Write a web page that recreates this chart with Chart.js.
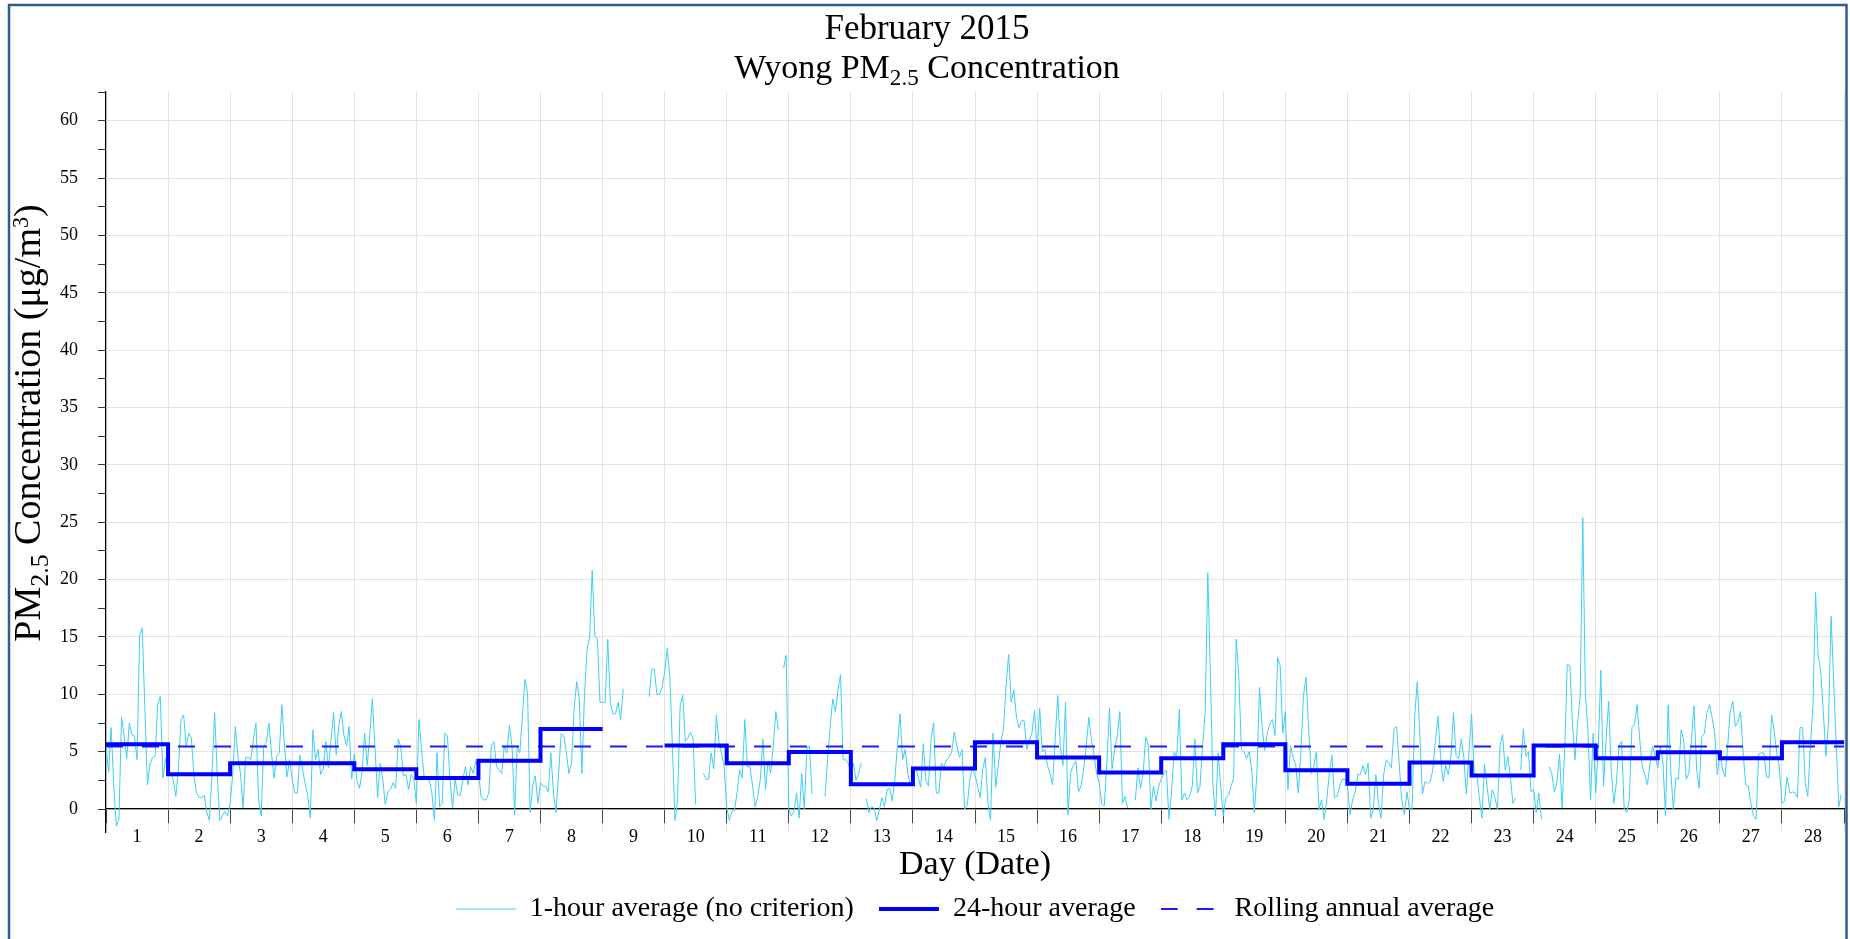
<!DOCTYPE html>
<html lang="en">
<head>
  <meta charset="UTF-8">
  <title>February 2015 - Wyong PM2.5 Concentration</title>
  <script src="https://cdn.jsdelivr.net/npm/chart.js"></script>
  <style>
    html, body {
      margin: 0;
      padding: 0;
      background: #ffffff;
      overflow: hidden;
    }

    #wrap {
      width: 1850px;
      height: 939px;
    }
  </style>
</head>
<body>
  <div id="wrap">
    <canvas id="chart" width="1850" height="939"></canvas>
  </div>

  <script>
    const FONT = "'Liberation Serif', 'DejaVu Serif', serif";

    // tick labels
    const dayLabels = ['1', '2', '3', '4', '5', '6', '7', '8', '9', '10', '11', '12', '13', '14',
      '15', '16', '17', '18', '19', '20', '21', '22', '23', '24', '25', '26', '27', '28'];
    const dayEdges = [0, 1, 2, 3, 4, 5, 6, 7, 8, 9, 10, 11, 12, 13, 14, 15, 16, 17, 18, 19, 20,
      21, 22, 23, 24, 25, 26, 27, 28];
    const yTickValues = [0, 2.5, 5, 7.5, 10, 12.5, 15, 17.5, 20, 22.5, 25, 27.5, 30, 32.5, 35,
      37.5, 40, 42.5, 45, 47.5, 50, 52.5, 55, 57.5, 60, 62.5];
    const yLabelValues = [0, 5, 10, 15, 20, 25, 30, 35, 40, 45, 50, 55, 60];

    // 1-hour averages, one row per day (hours 0..23), µg/m3
    const hourlyByDay = [
      [5.6, 3.2, 7.1, 2.0, -1.5, -0.9, 8.0, 6.4, 4.4, 7.5, 6.5, 6.4, 4.3, 15.1, 15.8, 9.0, 2.1, 3.9, 4.5, 4.6, 9.1, 9.8, 2.7, 4.4],
      [3.0, 3.1, 2.5, 1.1, 3.5, 7.8, 8.2, 5.5, 6.6, 6.2, 2.9, 1.4, 1.0, 1.0, 1.2, -0.3, -1.0, 3.1, 8.4, 3.1, -1.0, -0.6, -0.2, -0.6],
      [0.5, 3.0, 7.2, 4.6, 3.1, 0.1, 4.5, 4.5, 4.3, 6.1, 7.5, 0.8, -0.6, 5.5, 5.8, 7.5, 4.8, 2.7, 4.6, 4.9, 9.1, 5.5, 2.8, 4.3],
      [2.6, 1.4, 1.4, 4.7, 3.5, 2.2, 1.2, -0.8, 6.9, 4.3, 5.2, 3.0, 3.5, 5.9, 3.6, 6.0, 8.4, 4.7, 7.2, 8.5, 6.4, 5.5, 7.2, 2.6],
      [4.8, 2.5, 1.8, 3.2, 6.6, 3.8, 6.5, 9.6, 5.4, 1.0, 4.0, 2.6, 0.4, 1.5, 1.7, 2.3, 1.8, 6.1, 5.4, 2.9, 3.0, 1.7, 3.0, 2.6],
      [0.5, 7.8, 5.2, 2.8, 2.6, 2.5, 1.4, -1.0, 4.9, 0.2, 0.5, 6.6, 6.4, 2.6, 0.1, 2.6, 1.2, 1.2, 2.6, 3.7, 2.1, 3.7, 3.1, 4.2],
      [3.4, 1.1, 0.8, 0.8, 1.4, 5.5, 5.9, 3.7, 3.4, 3.1, 5.5, 4.9, 7.3, 5.5, -0.5, 5.5, 4.9, 8.1, 11.3, 10.1, -0.3, 2.1, 2.9, 0.5],
      [2.3, 2.0, 2.0, 1.5, 4.9, 1.4, -0.3, 3.1, 6.6, 6.4, 4.9, 3.1, 4.0, 8.7, 11.1, 9.6, 3.1, 9.9, 13.9, 15.0, 20.8, 15.1, 14.8, 9.3],
      [9.3, 9.3, 14.8, 9.3, 8.3, 8.3, 9.3, 7.8, 10.5, null, null, null, null, null, null, null, null, null, 9.8, 12.2, 12.2, 10.0, 10.0, 10.6],
      [11.9, 14.0, 11.6, 5.5, -1.0, 0.8, 9.0, 9.9, 5.9, 6.2, 6.7, 6.1, 0.4, null, null, 3.1, 2.6, 2.6, 4.9, 3.5, 8.2, 5.8, 4.9, 3.7],
      [0.2, -1.0, -0.2, -0.1, 1.4, 3.4, 2.7, 7.8, 3.7, 3.7, 2.0, 0.2, 1.1, 2.6, 6.1, 1.7, 4.2, 3.1, 5.5, 8.5, 6.9, null, 12.3, 13.4],
      [0.0, -0.6, -0.2, 1.4, -0.8, 3.1, 0.0, 5.3, 5.5, 1.3, null, null, null, null, 1.1, 4.3, 7.2, 9.6, 8.5, 10.3, 11.7, 4.3, 4.3, 4.0],
      [3.1, 4.0, 2.5, 3.1, 4.0, null, 0.9, -0.3, 0.2, 0.1, -1.0, -0.1, 1.0, 0.2, 1.7, 1.8, 0.7, 2.6, 5.5, 8.3, 4.3, 5.2, 3.1, 2.1],
      [3.0, 3.7, 2.8, 1.9, 5.7, 2.5, 2.0, 6.1, 7.5, 1.4, 1.4, 4.0, 3.7, 4.3, 4.5, 5.0, 6.7, 5.5, 4.5, 5.2, 0.0, 0.3, 2.6, 3.5],
      [3.0, 2.0, 1.0, 3.5, 4.5, 0.5, -1.0, 6.6, 1.9, 3.8, 5.8, 7.0, 10.7, 13.5, 9.3, 10.4, 8.1, 7.1, 7.7, 7.7, 5.2, 6.0, 6.6, 8.6],
      [5.0, 8.8, 5.0, 5.2, 3.8, 3.1, 2.1, 6.1, 9.9, 5.4, 3.8, 9.3, -0.5, 3.2, 3.8, 4.2, 1.5, 2.0, 3.4, 5.5, 8.0, 6.0, 4.8, 3.1],
      [2.3, 0.4, 0.3, 4.0, 8.8, 3.5, 5.2, 6.4, 8.5, 0.5, 1.1, 0.1, null, null, 0.8, 3.6, 1.8, 3.1, 6.3, 5.6, 0.0, 2.0, 0.7, 2.0],
      [2.6, 3.1, 3.4, -0.9, 1.5, 5.0, 4.5, 8.7, 0.8, 1.4, 0.8, 1.1, 2.0, 6.1, 1.4, 2.0, 5.5, 8.4, 20.6, 11.9, 2.1, -0.6, 4.9, 2.0],
      [-0.6, 1.0, 1.2, 2.0, 2.7, 14.8, 11.6, 5.2, 5.0, 4.4, 5.0, 3.4, -0.3, 3.1, 10.6, 7.2, 5.1, 6.6, 7.4, 7.8, 6.4, 13.2, 12.5, 6.6],
      [8.5, 1.7, 5.5, 4.5, 3.9, 1.4, 5.0, 9.9, 11.5, 7.0, 3.1, 3.7, 5.0, 0.0, 0.8, -0.9, 0.8, 3.1, 4.7, 1.0, 1.1, 2.0, 2.6, 2.6],
      [2.0, -0.5, 0.8, 1.5, 3.0, 3.0, 3.8, 3.0, 4.0, -0.8, 0.0, 3.0, 0.5, -0.8, 3.0, 4.3, 4.0, 3.6, 7.0, 7.2, 4.0, 0.8, -0.5, 1.5],
      [0.0, 0.0, 8.1, 11.1, 6.5, 1.3, 2.4, 2.2, 2.4, 3.4, 5.9, 8.1, 4.6, 2.4, 3.8, 3.0, 4.5, 8.4, 4.6, 4.4, 6.1, 4.5, 1.3, 5.0],
      [8.3, 3.0, 3.1, 1.0, -0.8, 3.9, 2.0, 0.0, 1.7, 1.0, 0.0, 5.5, 6.5, 3.4, 4.6, 2.8, 0.5, 1.0, null, 3.4, 7.0, 4.6, 5.0, 1.5],
      [1.7, -0.3, 1.4, -0.9, null, null, 3.7, 3.1, 1.5, 2.3, 4.8, 0.1, 5.2, 12.6, 12.5, 7.5, 4.3, 7.5, 10.0, 25.4, 10.0, 6.8, 0.8, 6.6],
      [1.4, 5.5, 12.1, 2.0, 6.0, 9.4, 3.4, 0.5, 2.3, 5.5, 5.9, 0.0, -0.3, 0.8, 7.1, 7.4, 9.1, 6.1, 3.7, 3.0, 2.1, 4.0, 5.5, 4.6],
      [3.6, 5.5, 4.0, -0.6, 9.1, 3.4, 0.0, 2.7, 2.6, 6.9, 6.0, 2.6, 3.1, 6.0, 9.0, 3.5, 1.8, 6.3, 6.6, 8.4, 9.1, 8.0, 6.6, 3.0],
      [4.9, 3.5, 2.8, 5.4, 8.5, 9.4, 7.2, 7.6, 8.5, 4.9, 2.1, 2.0, 0.5, -0.6, -0.9, 4.8, 4.9, 4.9, 2.8, 2.7, 8.2, 6.8, 4.9, 3.7],
      [0.5, 0.7, 2.8, 1.4, 1.5, 1.4, 1.0, 7.1, 7.1, 2.3, 1.1, 5.5, 9.0, 18.9, 13.5, 12.0, 8.5, 4.6, 7.5, 16.8, 11.2, 5.5, 0.2, 1.3]
    ];

    // 24-hour averages per day (day 9 incomplete, no value)
    const dailyAvg = [5.65, 3.04, 4.0, 4.0, 3.48, 2.7, 4.2, 6.98, null, 5.53, 4.0, 4.98, 2.17, 3.53,
      5.83, 4.49, 3.18, 4.43, 5.65, 3.39, 2.2, 4.05, 2.92, 5.53, 4.43, 4.96, 4.43, 5.83];

    const annualAvg = 5.45;

    // build point lists for the library
    const hourlyPoints = [];
    hourlyByDay.forEach((row, d) => {
      row.forEach((v, h) => hourlyPoints.push({ x: d + h / 24, y: v }));
    });

    const dailyPoints = [];
    dailyAvg.forEach((v, d) => {
      if (v === null) {
        dailyPoints.push({ x: d, y: null });
        return;
      }
      dailyPoints.push({ x: d, y: v });
      if (d === dailyAvg.length - 1 || dailyAvg[d + 1] === null) {
        dailyPoints.push({ x: d + 1, y: v });
      }
    });

    const annualPoints = [
      { x: dayEdges[0], y: annualAvg },
      { x: dayEdges[dayEdges.length - 1], y: annualAvg }
    ];

    // small line sample used as legend symbol
    function legendLine(color, width, dash) {
      const c = document.createElement('canvas');
      c.width = 60;
      c.height = 8;
      const g = c.getContext('2d');
      g.strokeStyle = color;
      g.lineWidth = width;
      g.setLineDash(dash);
      g.beginPath();
      g.moveTo(0, 4);
      g.lineTo(60, 4);
      g.stroke();
      return c;
    }

    // draws text pieces (normal / subscript / superscript) centred on x
    function drawRich(ctx, parts, x, y, size) {
      let total = 0;
      parts.forEach(p => {
        ctx.font = (p.scale ? size * p.scale : size) + 'px ' + FONT;
        p.w = ctx.measureText(p.t).width;
        total += p.w;
      });
      let cx = x - total / 2;
      ctx.textAlign = 'left';
      ctx.textBaseline = 'alphabetic';
      parts.forEach(p => {
        ctx.font = (p.scale ? size * p.scale : size) + 'px ' + FONT;
        ctx.fillText(p.t, cx, y + (p.dy || 0));
        cx += p.w;
      });
    }

    const textPlugin = {
      id: 'textPlugin',
      afterDraw(chart) {
        const ctx = chart.ctx;
        ctx.save();
        ctx.fillStyle = '#000';

        // title
        drawRich(ctx, [{ t: 'February 2015' }], 927, 39, 35);
        drawRich(ctx, [
          { t: 'Wyong PM' },
          { t: '2.5', scale: 0.68, dy: 7 },
          { t: ' Concentration' }
        ], 927, 78, 34);

        // x axis title
        drawRich(ctx, [{ t: 'Day (Date)' }], 975, 874, 34);

        // y axis title
        ctx.translate(40, 423);
        ctx.rotate(-Math.PI / 2);
        drawRich(ctx, [
          { t: 'PM' },
          { t: '2.5', scale: 0.68, dy: 8 },
          { t: ' Concentration (\u03bcg/m' },
          { t: '3', scale: 0.58, dy: -12 },
          { t: ')' }
        ], 0, 0, 38);
        ctx.restore();

        // outer frame
        ctx.save();
        ctx.strokeStyle = '#2f5d93';
        ctx.lineWidth = 2.5;
        ctx.strokeRect(9, 5, 1837.5, 1000);
        ctx.restore();
      }
    };

    const ctx = document.getElementById('chart').getContext('2d');

    const chart = new Chart(ctx, {
      type: 'line',
      data: {
        datasets: [
          {
            label: '1-hour average (no criterion)',
            data: hourlyPoints,
            borderColor: '#3fcdf5',
            borderWidth: 1,
            pointRadius: 0,
            tension: 0,
            spanGaps: false,
            order: 3
          },
          {
            label: '24-hour average',
            data: dailyPoints,
            borderColor: '#0000ff',
            borderWidth: 4,
            pointRadius: 0,
            stepped: 'before',
            spanGaps: false,
            order: 1
          },
          {
            label: 'Rolling annual average',
            data: annualPoints,
            borderColor: '#1a1aff',
            borderWidth: 2,
            borderDash: [17, 19],
            pointRadius: 0,
            order: 2
          }
        ]
      },
      options: {
        responsive: false,
        animation: false,
        events: [],
        layout: {
          padding: { top: 92, right: 6, bottom: 6, left: 0 }
        },
        scales: {
          x: {
            type: 'linear',
            min: 0,
            max: 28,
            position: { y: 0 },
            afterBuildTicks: (scale) => {
              scale.ticks = dayEdges.map(v => ({ value: v }));
            },
            ticks: {
              autoSkip: false,
              maxRotation: 0,
              labelOffset: 31,
              padding: 3,
              color: '#000',
              font: { family: FONT, size: 18 },
              callback: (value) => dayLabels[value] || ''
            },
            grid: {
              color: '#e2e2e2',
              tickColor: '#444',
              tickLength: 14
            },
            border: { color: '#000', width: 1.2 }
          },
          xSpace: {
            type: 'linear',
            axis: 'x',
            position: 'bottom',
            min: 0,
            max: 28,
            ticks: { display: false },
            grid: { display: false, drawTicks: true, tickLength: 38 },
            border: { display: false }
          },
          y: {
            type: 'linear',
            min: -2,
            max: 62.5,
            afterBuildTicks: (scale) => {
              scale.ticks = yTickValues.map(v => ({ value: v }));
            },
            afterFit: (scale) => {
              scale.width = 106;
            },
            ticks: {
              padding: 20,
              color: '#000',
              font: { family: FONT, size: 18 },
              callback: (value) => yLabelValues.includes(value) ? String(value) : ''
            },
            grid: {
              color: (c) => (c.tick && yLabelValues.includes(c.tick.value)) ? '#e2e2e2' : 'rgba(0,0,0,0)',
              tickColor: '#333',
              tickLength: 8
            },
            border: { color: '#000', width: 1.2 }
          }
        },
        plugins: {
          title: { display: false },
          tooltip: { enabled: false },
          legend: {
            position: 'bottom',
            fullSize: false,
            labels: {
              usePointStyle: true,
              pointStyleWidth: 60,
              padding: 25,
              color: '#000',
              font: { family: FONT, size: 28 },
              sort: (a, b) => a.datasetIndex - b.datasetIndex,
              generateLabels: (chart) => {
                const items = Chart.defaults.plugins.legend.labels.generateLabels(chart);
                return items.map(item => {
                  const ds = chart.data.datasets[item.datasetIndex];
                  item.pointStyle = legendLine(ds.borderColor, ds.borderWidth, ds.borderDash || []);
                  return item;
                });
              }
            }
          }
        }
      },
      plugins: [textPlugin]
    });
  </script>
</body>
</html>
